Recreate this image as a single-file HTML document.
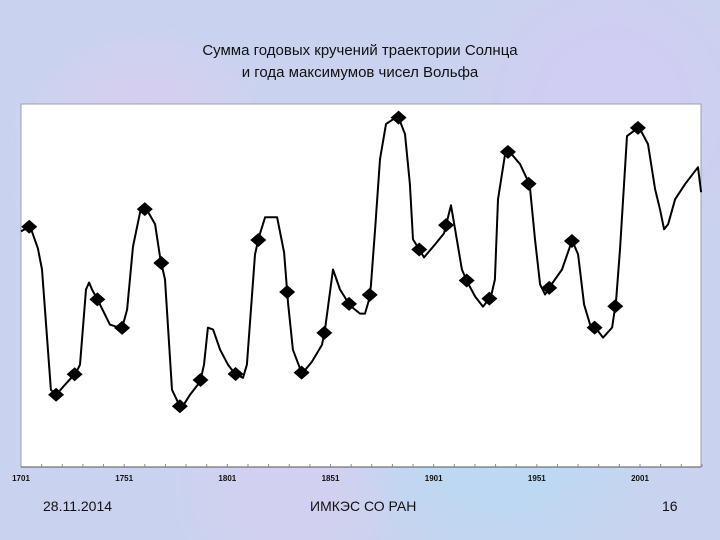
<!DOCTYPE html>
<html><head><meta charset="utf-8">
<style>
html,body{margin:0;padding:0}
body{width:720px;height:540px;position:relative;overflow:hidden;
background:#c9d3ef;
background-image:
radial-gradient(circle at 20% 30%, rgba(230,200,240,.5) 0 8%, transparent 20%),
radial-gradient(circle at 70% 80%, rgba(180,220,245,.6) 0 10%, transparent 25%),
radial-gradient(circle at 85% 20%, rgba(215,200,245,.5) 0 8%, transparent 22%),
radial-gradient(circle at 40% 90%, rgba(220,205,240,.5) 0 6%, transparent 18%);
font-family:"Liberation Sans",sans-serif;}
.title{position:absolute;left:0;width:720px;text-align:center;font-size:15px;color:#111;line-height:22px}
.foot{position:absolute;top:498px;font-size:14px;color:#111}
</style></head><body>
<div class="title" style="top:40px">Сумма годовых кручений траектории Солнца<br>и года максимумов чисел Вольфа</div>
<svg id="chart" width="720" height="540" style="position:absolute;left:0;top:0"></svg>
<div class="foot" style="left:43px">28.11.2014</div>
<div class="foot" style="left:310px">ИМКЭС СО РАН</div>
<div class="foot" style="left:662px">16</div>
<script>
const curveYears=[1701,1705.4,1709.2,1711.2,1715.5,1718,1722.3,1727.7,1729.6,1732.5,1734,1735.4,1738.3,1744.1,1749.9,1752.4,1755.3,1758.7,1761.6,1766,1768.4,1770.8,1774.2,1778.6,1782.9,1787.8,1789.7,1791.6,1794.1,1797.5,1801.3,1804.7,1808.6,1810.5,1814.4,1816.4,1819.3,1825.1,1828.5,1830.4,1832.8,1837.2,1842,1846.9,1848.4,1852.2,1855.6,1860.5,1865.3,1867.7,1869.7,1870.6,1872.6,1875,1877.9,1883.7,1887.1,1889.5,1891,1893.4,1896.3,1901.7,1906,1909.4,1911.4,1914.7,1917.2,1921.1,1924.9,1928.8,1930.7,1932.2,1935.6,1937.5,1942.9,1946.3,1947.7,1950.1,1952.6,1955,1957.4,1963.2,1968.1,1971,1973.9,1976.8,1979.7,1983.1,1987.5,1989.4,1991.3,1994.7,2000.5,2004.9,2008.3,2010.7,2012.7,2014.6,2018,2022.8,2029.1,2030.6];
const curveValues=[235,240,218,197,77,72,82,94,102,177,184,177,166,142,138,157,220,254,258,242,209,187,77,58,72,85,102,139,137,117,102,93,89,102,212,230,249,249,214,164,117,93,105,122,138,197,177,161,153,153,167,181,237,307,342,350,332,282,227,219,209,222,233,261,237,197,185,170,160,170,187,267,312,315,302,287,278,227,182,172,180,197,226,212,162,142,138,129,139,166,217,330,339,322,277,257,237,242,267,282,299,274];
const maxYears=[1705,1718,1727,1738,1750,1761,1769,1778,1788,1805,1816,1830,1837,1848,1860,1870,1884,1894,1907,1917,1928,1937,1947,1957,1968,1979,1989,2000];
const tickLabels=[1701,1751,1801,1851,1901,1951,2001];
const NS="http://www.w3.org/2000/svg";
const svg=document.getElementById('chart');
const L=21,R=701,T=104,B=467;
const x=y=>L+(y-1701)*(640-21)/300;
const yv=v=>B-v*(B-T)/362;
function mk(tag,attrs){const e=document.createElementNS(NS,tag);for(const k in attrs)e.setAttribute(k,attrs[k]);svg.appendChild(e);return e;}
const bg=mk('rect',{x:L,y:T,width:R-L,height:B-T,fill:'#fff',stroke:'#9aa0b0','stroke-width':1});


const ax=mk('line',{x1:L,y1:B,x2:R,y2:B,stroke:'#555','stroke-width':1});


for(let yr=1711;yr<=2031;yr+=10){const t=mk('line',{x1:x(yr),y1:B,x2:x(yr),y2:B-3,stroke:'#888'});

}
tickLabels.forEach(yr=>{const t=mk('text',{x:x(yr),y:481,'font-size':8,'font-weight':'bold','text-anchor':'middle',fill:'#111','font-family':'Liberation Sans, sans-serif'});t.textContent=yr;

});
const interp=yr=>{for(let i=1;i<curveYears.length;i++){if(yr<=curveYears[i]){const a=curveYears[i-1],b=curveYears[i];const f=(yr-a)/(b-a);return curveValues[i-1]+f*(curveValues[i]-curveValues[i-1]);}}return curveValues[curveValues.length-1];};
const d=curveYears.map((yr,i)=>(i?'L':'M')+x(yr).toFixed(1)+','+yv(curveValues[i]).toFixed(1)).join(' ');
const p=mk('path',{d:d,fill:'none',stroke:'#000','stroke-width':2,'stroke-linejoin':'round'});


maxYears.forEach(yr=>{const cx=x(yr),cy=yv(interp(yr));const m=mk('polygon',{points:`${cx-8},${cy} ${cx},${cy-7} ${cx+8},${cy} ${cx},${cy+7}`,fill:'#000'});

});
</script>
</body></html>
